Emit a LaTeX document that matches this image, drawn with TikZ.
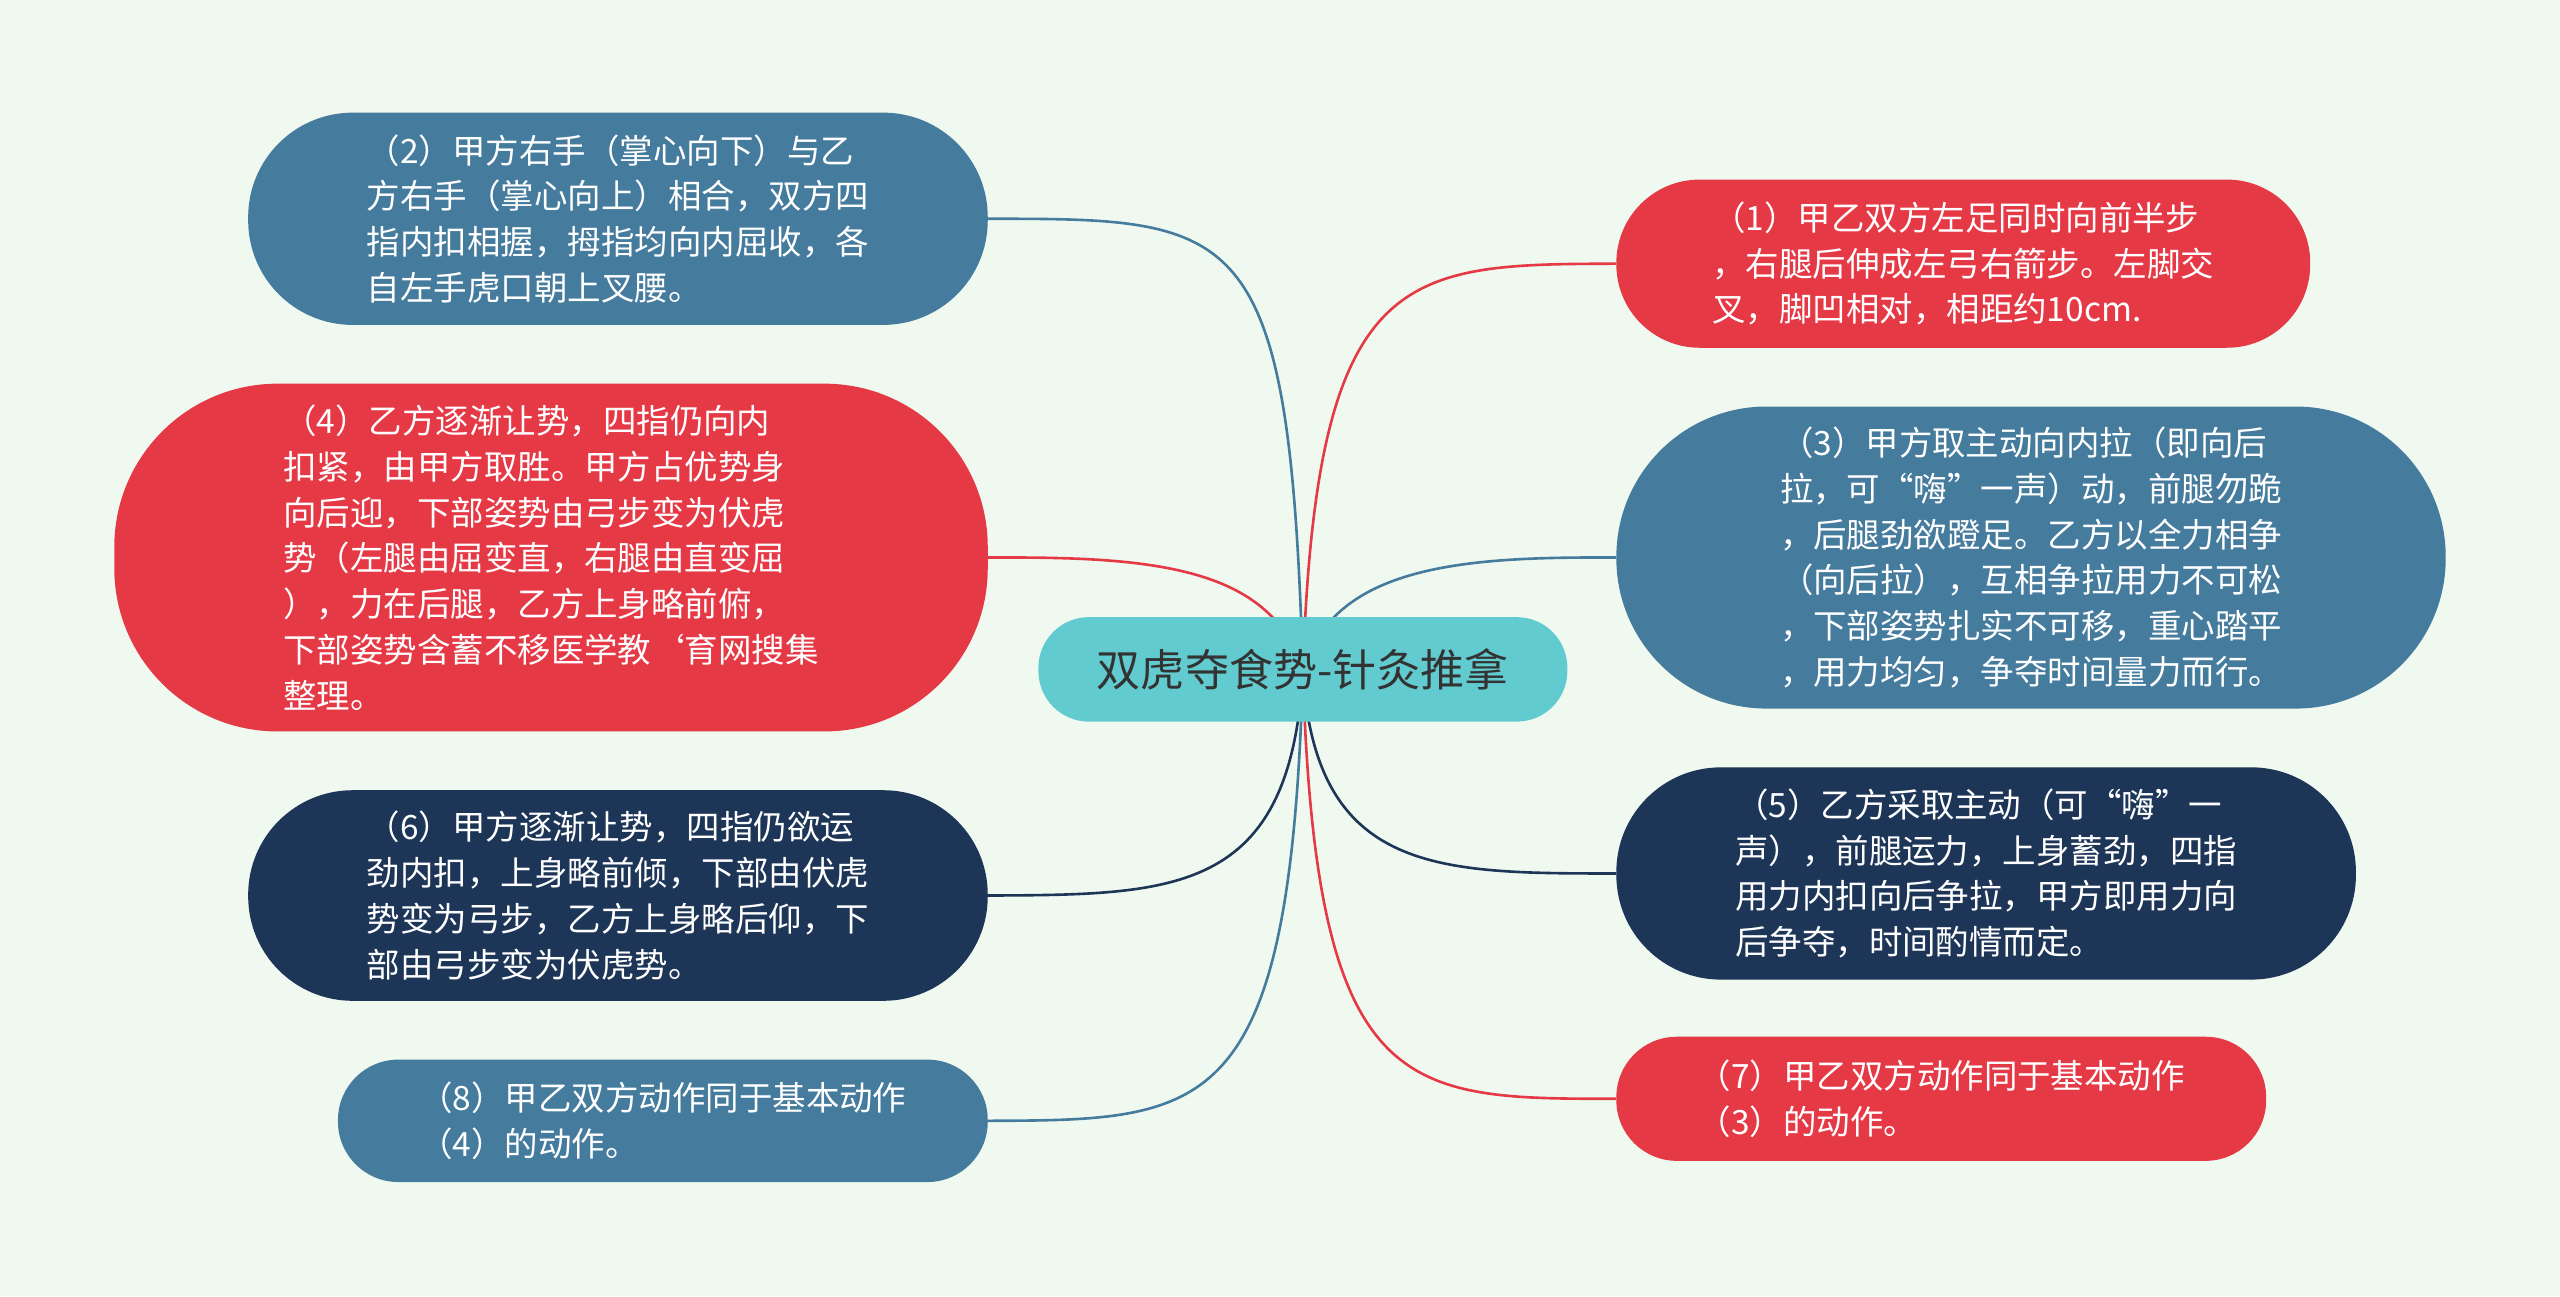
\documentclass[tikz,border=0pt]{standalone}
\usepackage{fontspec}
\setmainfont{Noto Sans CJK SC}
\definecolor{bg}{HTML}{F0F9F0}
\definecolor{cred}{HTML}{E63946}
\definecolor{cblue}{HTML}{457B9D}
\definecolor{cnavy}{HTML}{1D3557}
\definecolor{cteal}{HTML}{62CBCF}
\begin{document}
\begin{tikzpicture}[x=1pt,y=-1pt,
  box/.style={text=white,align=left,font=\fontsize{20.5}{28}\selectfont,inner sep=0pt},
  lk/.style={line width=1.6pt}]
\fill[bg] (0,0) rectangle (1568,794);
\useasboundingbox (0,0) rectangle (1568,794);
\newcommand\bx[8]{% name x y w h color radius text
  \coordinate (#1L) at (#2-#4/2,#3);
  \coordinate (#1R) at (#2+#4/2,#3);
  \fill[#6,rounded corners=#7pt] (#2-#4/2,#3-#5/2) rectangle (#2+#4/2,#3+#5/2);
  \node[box] (#1) at (#2,#3) {#8};}
\coordinate (c) at (798,412);
\draw[lk,cblue] (c) .. controls (790,134) and (760,134) .. (605,134);
\draw[lk,cred] (c) .. controls (780,345) and (700,341) .. (605,341.5);
\draw[lk,cnavy] (c) .. controls (790,548) and (720,548) .. (605,548.5);
\draw[lk,cblue] (c) .. controls (790,686) and (740,686) .. (605,686.5);
\draw[lk,cred] (c) .. controls (806,162) and (860,162) .. (990,161.5);
\draw[lk,cblue] (c) .. controls (816,345) and (900,341) .. (990,341.5);
\draw[lk,cnavy] (c) .. controls (806,535) and (880,535) .. (990,535);
\draw[lk,cred] (c) .. controls (806,673) and (860,673) .. (990,673);
\bx{n2}{378.5}{134}{453}{130}{cblue}{64}{（2）甲方右手（掌心向下）与乙\\方右手（掌心向上）相合，双方四\\指内扣相握，拇指均向内屈收，各\\自左手虎口朝上叉腰。}
\bx{n4}{337.5}{341.5}{535}{213}{cred}{100}{（4）乙方逐渐让势，四指仍向内\\扣紧，由甲方取胜。甲方占优势身\\向后迎，下部姿势由弓步变为伏虎\\势（左腿由屈变直，右腿由直变屈\\），力在后腿，乙方上身略前俯，\\下部姿势含蓄不移医学教`育网搜集\\整理。}
\bx{n6}{378.5}{548.5}{453}{129}{cnavy}{64}{（6）甲方逐渐让势，四指仍欲运\\劲内扣，上身略前倾，下部由伏虎\\势变为弓步，乙方上身略后仰，下\\部由弓步变为伏虎势。}
\bx{n8}{406}{686.5}{398}{75}{cblue}{37}{（8）甲乙双方动作同于基本动作\\（4）的动作。}
\bx{n1}{1202.5}{161.5}{425}{103}{cred}{51}{（1）甲乙双方左足同时向前半步\\，右腿后伸成左弓右箭步。左脚交\\叉，脚凹相对，相距约10cm.}
\bx{n3}{1244}{341.5}{508}{185}{cblue}{92}{（3）甲方取主动向内拉（即向后\\拉，可“嗨”一声）动，前腿勿跪\\，后腿劲欲蹬足。乙方以全力相争\\（向后拉），互相争拉用力不可松\\，下部姿势扎实不可移，重心踏平\\，用力均匀，争夺时间量力而行。}
\bx{n5}{1216.5}{535}{453}{130}{cnavy}{64}{（5）乙方采取主动（可“嗨”一\\声），前腿运力，上身蓄劲，四指\\用力内扣向后争拉，甲方即用力向\\后争夺，时间酌情而定。}
\bx{n7}{1189}{673}{398}{76}{cred}{37}{（7）甲乙双方动作同于基本动作\\（3）的动作。}
\fill[cteal,rounded corners=31pt] (636,378) rectangle (960,442);
\node[font=\fontsize{27}{30}\selectfont,text=black!80] (C) at (798,410) {双虎夺食势-针灸推拿};
\end{tikzpicture}
\end{document}
